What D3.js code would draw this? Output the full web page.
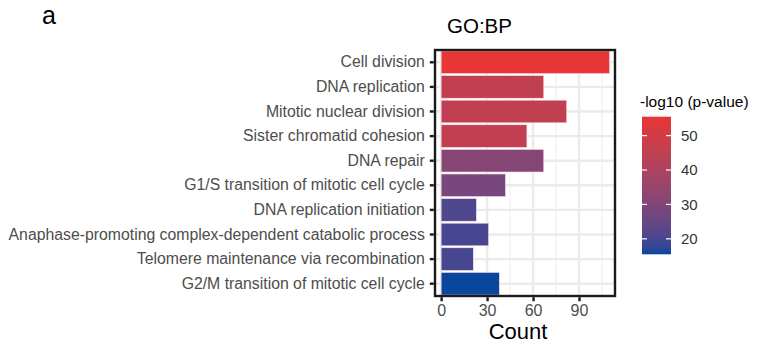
<!DOCTYPE html>
<html><head><meta charset="utf-8">
<script src="https://cdn.jsdelivr.net/npm/d3@7"></script>
<style>body{margin:0;background:#fff}svg{display:block}</style>
</head><body>
<svg id="c" width="759" height="346"></svg>
<script>
const categories = ["Cell division","DNA replication","Mitotic nuclear division","Sister chromatid cohesion","DNA repair","G1/S transition of mitotic cell cycle","DNA replication initiation","Anaphase-promoting complex-dependent catabolic process","Telomere maintenance via recombination","G2/M transition of mitotic cell cycle"];
const counts = [110, 67, 82, 56, 67, 42, 23, 31, 21, 38];
const pvals = [55.5, 45, 45, 45, 31, 28, 21, 20, 20, 15.5];
const xTicks = [0, 30, 60, 90];
const legendTicks = [20, 30, 40, 50];

const FONT = "Liberation Sans, Arial, sans-serif";
const svg = d3.select("#c");
const L = 435, R = 615, T = 50, B = 296;
const x = d3.scaleLinear().domain([-4, 113.5]).range([L, R]);
const y = d3.scaleBand().domain(categories).range([T, B]).paddingInner(0.08).paddingOuter(0.04);
const pExt = [15.5, 55.5];
const color = d3.scaleLinear().domain(pExt).range(["#0a469c", "#e83535"]).interpolate(d3.interpolateLab);

// panel background + grid
const g = svg.append("g");
g.append("rect").attr("x", L).attr("y", T).attr("width", R-L).attr("height", B-T).attr("fill", "#fff");
const minor = [15, 45, 75, 105];
g.selectAll(".vmin").data(minor).join("line").attr("x1", d=>x(d)).attr("x2", d=>x(d)).attr("y1", T).attr("y2", B).attr("stroke", "#f0f0f0").attr("stroke-width", 1.2);
g.selectAll(".vmaj").data(xTicks).join("line").attr("x1", d=>x(d)).attr("x2", d=>x(d)).attr("y1", T).attr("y2", B).attr("stroke", "#ebebeb").attr("stroke-width", 2.4);
g.selectAll(".hmaj").data(categories).join("line").attr("x1", L).attr("x2", R).attr("y1", d=>y(d)+y.bandwidth()/2).attr("y2", d=>y(d)+y.bandwidth()/2).attr("stroke", "#ebebeb").attr("stroke-width", 2.4);

// bars
g.selectAll(".bar").data(categories).join("rect")
  .attr("x", x(0)).attr("y", d=>y(d))
  .attr("width", (d,i)=>x(counts[i]) - x(0)).attr("height", y.bandwidth())
  .attr("fill", (d,i)=>color(pvals[i])).attr("stroke", "#fbe3e8").attr("stroke-width", 0.6);

// panel border
g.append("rect").attr("x", L).attr("y", T).attr("width", R-L).attr("height", B-T).attr("fill", "none").attr("stroke", "#1a1a1a").attr("stroke-width", 2.4);

// y axis
const yAxis = d3.axisLeft(y).tickSize(4).tickPadding(5);
const ya = svg.append("g").attr("transform", `translate(${L-1.2},0)`).call(yAxis);
ya.select(".domain").remove();
ya.selectAll(".tick line").attr("stroke", "#1a1a1a").attr("stroke-width", 2.4);
ya.selectAll(".tick text").attr("fill", "#4d4d4d").style("font-family", FONT).style("font-size", "15.8px");

// x axis
const xAxis = d3.axisBottom(x).tickValues(xTicks).tickSize(4).tickPadding(3);
const xa = svg.append("g").attr("transform", `translate(0,${B+1.2})`).call(xAxis);
xa.select(".domain").remove();
xa.selectAll(".tick line").attr("stroke", "#1a1a1a").attr("stroke-width", 2.4);
xa.selectAll(".tick text").attr("fill", "#4d4d4d").style("font-family", FONT).style("font-size", "16px");

svg.append("text").attr("x", 518).attr("y", 339).attr("text-anchor", "middle")
  .style("font-family", FONT).style("font-size", "22px").attr("fill", "#000").text("Count");
svg.append("text").attr("x", 447).attr("y", 33)
  .style("font-family", FONT).style("font-size", "20.5px").attr("fill", "#000").text("GO:BP");
svg.append("text").attr("x", 42).attr("y", 24)
  .style("font-family", FONT).style("font-size", "25px").attr("fill", "#000").text("a");

// legend
const lx = 642, lw = 29, lt = 116.7, lb = 254.3;
const ly = d3.scaleLinear().domain(pExt).range([lb, lt]);
const defs = svg.append("defs");
const grad = defs.append("linearGradient").attr("id", "lg").attr("x1", 0).attr("x2", 0).attr("y1", 1).attr("y2", 0);
d3.range(0, 1.0001, 0.05).forEach(t => {
  grad.append("stop").attr("offset", t).attr("stop-color", color(pExt[0] + t*(pExt[1]-pExt[0])));
});
svg.append("rect").attr("x", lx).attr("y", lt).attr("width", lw).attr("height", lb-lt).attr("fill", "url(#lg)");
const lg = svg.append("g");
lg.selectAll(".tl").data(legendTicks).join("line").attr("x1", lx).attr("x2", lx+5).attr("y1", d=>ly(d)).attr("y2", d=>ly(d)).attr("stroke", "#fff").attr("stroke-width", 1.2);
lg.selectAll(".tr").data(legendTicks).join("line").attr("x1", lx+lw-5).attr("x2", lx+lw).attr("y1", d=>ly(d)).attr("y2", d=>ly(d)).attr("stroke", "#fff").attr("stroke-width", 1.2);
lg.selectAll(".tt").data(legendTicks).join("text").attr("x", lx+lw+10).attr("y", d=>ly(d)).attr("dy", "0.36em")
  .style("font-family", FONT).style("font-size", "15px").attr("fill", "#333").text(d=>d);
svg.append("text").attr("x", 640).attr("y", 107)
  .style("font-family", FONT).style("font-size", "15.5px").attr("fill", "#000").text("-log10 (p-value)");
</script>
</body></html>
